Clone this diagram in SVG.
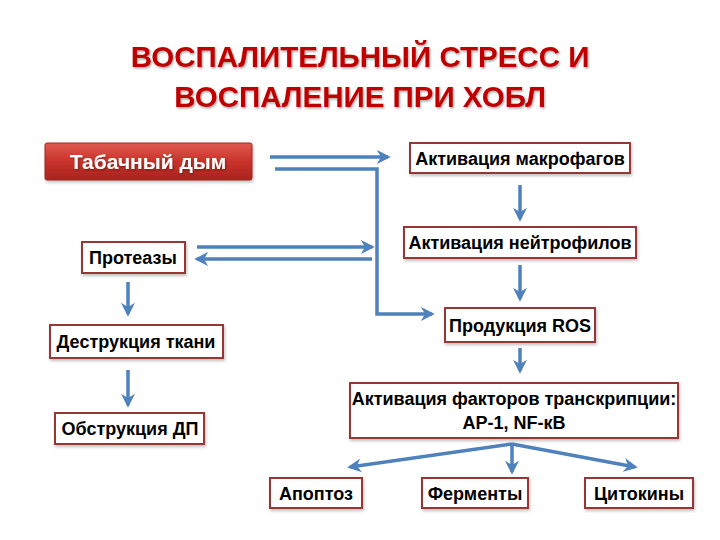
<svg xmlns="http://www.w3.org/2000/svg" width="720" height="540" viewBox="0 0 720 540">
<defs>
<marker id="ah" viewBox="0 0 10 10" refX="8" refY="5" markerWidth="4" markerHeight="4" orient="auto" markerUnits="strokeWidth">
<path d="M0,0 L10,5 L0,10 L3,5 z" fill="#4F81BD"/>
</marker>
<linearGradient id="red" x1="0" y1="0" x2="0" y2="1">
<stop offset="0" stop-color="#E05A50"/>
<stop offset="0.5" stop-color="#C8332B"/>
<stop offset="1" stop-color="#A8231D"/>
</linearGradient>
<filter id="sh" x="-10%" y="-20%" width="120%" height="150%">
<feDropShadow dx="1" dy="2" stdDeviation="1.5" flood-color="#000" flood-opacity="0.25"/>
</filter>
<filter id="tsh" x="-5%" y="-20%" width="110%" height="150%">
<feDropShadow dx="1" dy="1.5" stdDeviation="1" flood-color="#000" flood-opacity="0.35"/>
</filter>
</defs>
<style>
.box{fill:#fff;stroke:#953735;stroke-width:2;filter:url(#sh)}
.t{font-family:"Liberation Sans",Arial,sans-serif;font-weight:bold;font-size:18px;fill:#000;text-anchor:middle}
.title{font-family:"Liberation Sans",Arial,sans-serif;font-weight:bold;font-size:29.5px;fill:#C00000;text-anchor:middle;filter:url(#tsh)}
.c{fill:none;stroke:#4F81BD;stroke-width:3.5}
.ca{fill:none;stroke:#4F81BD;stroke-width:3.5;marker-end:url(#ah)}
</style>
<rect width="720" height="540" fill="#fff"/>
<g id="title">
<text class="title" x="360" y="67">ВОСПАЛИТЕЛЬНЫЙ СТРЕСС И</text>
<text class="title" x="360" y="107">ВОСПАЛЕНИЕ ПРИ ХОБЛ</text>
</g>
<g id="connectors">
<line class="ca" x1="270" y1="157" x2="388" y2="157"/>
<polyline class="ca" points="275,169 377,169 377,314 432,314"/>
<line class="ca" x1="197" y1="247" x2="372" y2="247"/>
<line class="ca" x1="372" y1="259" x2="197" y2="259"/>
<line class="ca" x1="520" y1="185" x2="520" y2="219"/>
<line class="ca" x1="520" y1="265" x2="520" y2="299"/>
<line class="ca" x1="520" y1="348" x2="520" y2="371"/>
<line class="ca" x1="128" y1="282" x2="128" y2="314"/>
<line class="ca" x1="128" y1="370" x2="128" y2="405"/>
<line class="ca" x1="512" y1="444" x2="350" y2="467"/>
<line class="ca" x1="512" y1="444" x2="512" y2="472"/>
<line class="ca" x1="512" y1="444" x2="635" y2="467"/>
</g>
<g id="tabak">
<rect x="45" y="143" width="207" height="37" rx="2" fill="url(#red)" stroke="#9E2A22" stroke-width="1" filter="url(#sh)"/>
<text x="148" y="169" font-family="'Liberation Sans',Arial,sans-serif" font-weight="bold" font-size="21" fill="#fff" text-anchor="middle" filter="url(#tsh)">Табачный дым</text>
</g>
<g id="makrofag">
<rect class="box" x="410" y="143" width="220" height="30"/>
<text class="t" x="520" y="165">Активация макрофагов</text>
</g>
<g id="neutro">
<rect class="box" x="404" y="227" width="232" height="31"/>
<text class="t" x="520" y="249">Активация нейтрофилов</text>
</g>
<g id="proteazy">
<rect class="box" x="82" y="242" width="103" height="31"/>
<text class="t" x="133" y="264">Протеазы</text>
</g>
<g id="ros">
<rect class="box" x="445" y="308" width="150" height="34"/>
<text class="t" x="520" y="332">Продукция ROS</text>
</g>
<g id="destr">
<rect class="box" x="50" y="325" width="173" height="33"/>
<text class="t" x="136" y="348">Деструкция ткани</text>
</g>
<g id="transcr">
<rect class="box" x="350" y="383" width="328" height="55"/>
<text class="t" x="514" y="405">Активация факторов транскрипции:</text>
<text class="t" x="514" y="429">AP-1, NF-кB</text>
</g>
<g id="obstr">
<rect class="box" x="55" y="413" width="149" height="31"/>
<text class="t" x="130" y="435">Обструкция ДП</text>
</g>
<g id="apoptoz">
<rect class="box" x="270" y="478" width="92" height="30"/>
<text class="t" x="316" y="500">Апоптоз</text>
</g>
<g id="fermenty">
<rect class="box" x="422" y="478" width="106" height="30"/>
<text class="t" x="475" y="500">Ферменты</text>
</g>
<g id="citokiny">
<rect class="box" x="585" y="478" width="108" height="30"/>
<text class="t" x="639" y="500">Цитокины</text>
</g>
</svg>
